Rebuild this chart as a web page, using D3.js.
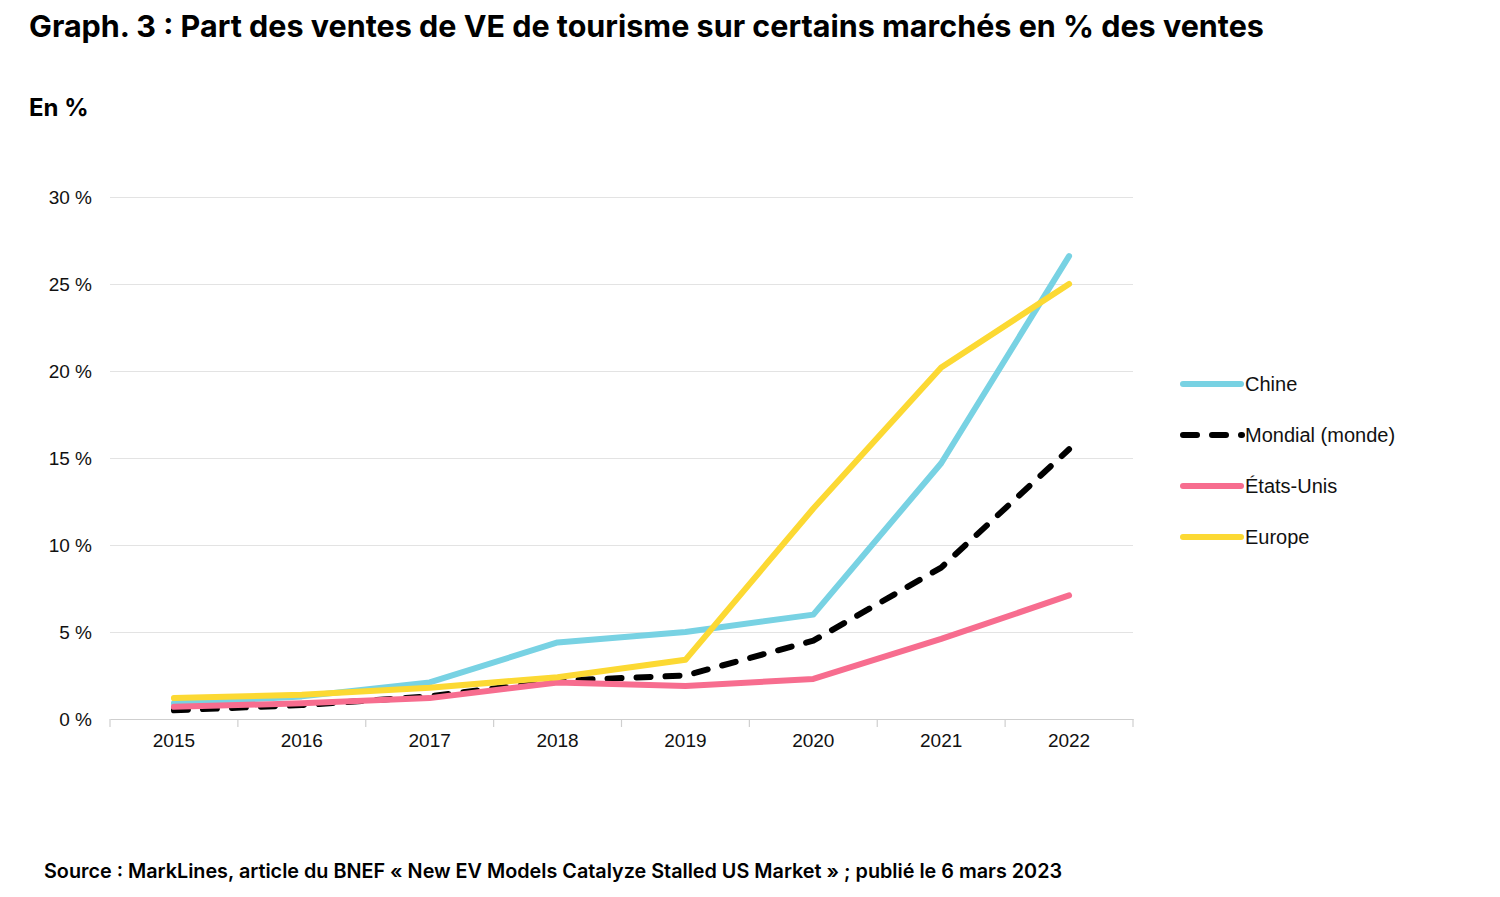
<!DOCTYPE html>
<html>
<head>
<meta charset="utf-8">
<script src="https://cdn.jsdelivr.net/npm/d3@7"></script>
<style>
	body { margin: 0; background: #fff; }
	svg { font-family: Inter, "Liberation Sans", sans-serif; }
	.title { font-size: 30.5px; font-weight: 700; }
	.unit { font-size: 24px; font-weight: 700; }
	.source { font-size: 19.8px; font-weight: 600; }
	.tick text { font-family: "Liberation Sans", Arial, sans-serif; font-size: 19px; fill: #111; }
	.legend text { font-family: "Liberation Sans", Arial, sans-serif; font-size: 20px; fill: #111; }
</style>
</head>
<body>
<main></main>
<script>
const years = ['2015', '2016', '2017', '2018', '2019', '2020', '2021', '2022'];
const yTicks = [0, 5, 10, 15, 20, 25, 30];
const seriesNames = ['Chine', 'Mondial (monde)', 'États-Unis', 'Europe'];
const chine = [0.9, 1.3, 2.1, 4.4, 5.0, 6.0, 14.7, 26.6];
const mondial = [0.5, 0.8, 1.3, 2.2, 2.5, 4.5, 8.7, 15.5];
const etatsUnis = [0.7, 0.9, 1.2, 2.1, 1.9, 2.3, 4.6, 7.1];
const europe = [1.2, 1.4, 1.8, 2.4, 3.4, 12.1, 20.2, 25.0];

const series = [
	{ name: seriesNames[0], values: chine, color: '#78d2e3', dash: null },
	{ name: seriesNames[1], values: mondial, color: '#000000', dash: '14,15' },
	{ name: seriesNames[2], values: etatsUnis, color: '#f76d8f', dash: null },
	{ name: seriesNames[3], values: europe, color: '#fcd933', dash: null }
];

const W = 1500, H = 897;
const plotLeft = 110, plotRight = 1133, plotTop = 197, plotBottom = 719;

const svg = d3.select('main').append('svg')
	.attr('width', W)
	.attr('height', H);

const x = d3.scaleBand()
	.domain(years)
	.range([plotLeft, plotRight]);

const y = d3.scaleLinear()
	.domain([0, 30])
	.range([plotBottom, plotTop]);

// grid
svg.append('g')
	.attr('transform', `translate(${plotLeft},0)`)
	.call(d3.axisLeft(y).tickValues(yTicks.slice(1)).tickSize(-(plotRight - plotLeft)).tickFormat(''))
	.call(g => g.select('.domain').remove())
	.call(g => g.selectAll('line').attr('stroke', '#dcdcdc').attr('stroke-width', 0.8));

// y labels
svg.append('g')
	.attr('transform', `translate(${plotLeft},0)`)
	.call(d3.axisLeft(y).tickValues(yTicks).tickSize(0).tickPadding(18).tickFormat(d => d + ' %'))
	.call(g => g.select('.domain').remove());

// x axis
const xAxis = svg.append('g')
	.attr('transform', `translate(0,${plotBottom})`)
	.call(d3.axisBottom(x).tickSize(0).tickPadding(15));
xAxis.select('.domain').attr('stroke', '#cfcfcf').attr('stroke-width', 1.2);
const sepX = years.map(d => x(d)).concat([x(years[years.length - 1]) + x.bandwidth()]);
xAxis.selectAll('.sep')
	.data(sepX)
	.enter()
	.append('line')
	.attr('class', 'sep')
	.attr('x1', d => d)
	.attr('x2', d => d)
	.attr('y1', 0)
	.attr('y2', 8)
	.attr('stroke', '#cfcfcf')
	.attr('stroke-width', 1.2);

const line = d3.line()
	.x((d, i) => x(years[i]) + x.bandwidth() / 2)
	.y(d => y(d));

svg.append('g')
	.selectAll('path')
	.data(series)
	.enter()
	.append('path')
	.attr('d', s => line(s.values))
	.attr('fill', 'none')
	.attr('stroke', s => s.color)
	.attr('stroke-width', 6)
	.attr('stroke-linecap', 'round')
	.attr('stroke-linejoin', 'round')
	.attr('stroke-dasharray', s => s.dash);

// legend
const legend = svg.append('g')
	.attr('class', 'legend')
	.attr('transform', 'translate(1183,384)');

const items = legend.selectAll('g')
	.data(series)
	.enter()
	.append('g')
	.attr('transform', (d, i) => `translate(0,${i * 51})`);

items.append('line')
	.attr('x1', 0)
	.attr('x2', d => d.dash ? 59 : 58)
	.attr('y1', 0)
	.attr('y2', 0)
	.attr('stroke', d => d.color)
	.attr('stroke-width', 6)
	.attr('stroke-linecap', 'round')
	.attr('stroke-dasharray', d => d.dash);

items.append('text')
	.attr('x', 62)
	.attr('y', 0)
	.attr('dy', '0.35em')
	.text(d => d.name);

svg.append('text')
	.attr('class', 'title')
	.attr('x', 29)
	.attr('y', 37)
	.text('Graph. 3 : Part des ventes de VE de tourisme sur certains marchés en % des ventes');

svg.append('text')
	.attr('class', 'unit')
	.attr('x', 29)
	.attr('y', 116)
	.text('En %');

svg.append('text')
	.attr('class', 'source')
	.attr('x', 44)
	.attr('y', 878)
	.text('Source : MarkLines, article du BNEF « New EV Models Catalyze Stalled US Market » ; publié le 6 mars 2023');
</script>
</body>
</html>
